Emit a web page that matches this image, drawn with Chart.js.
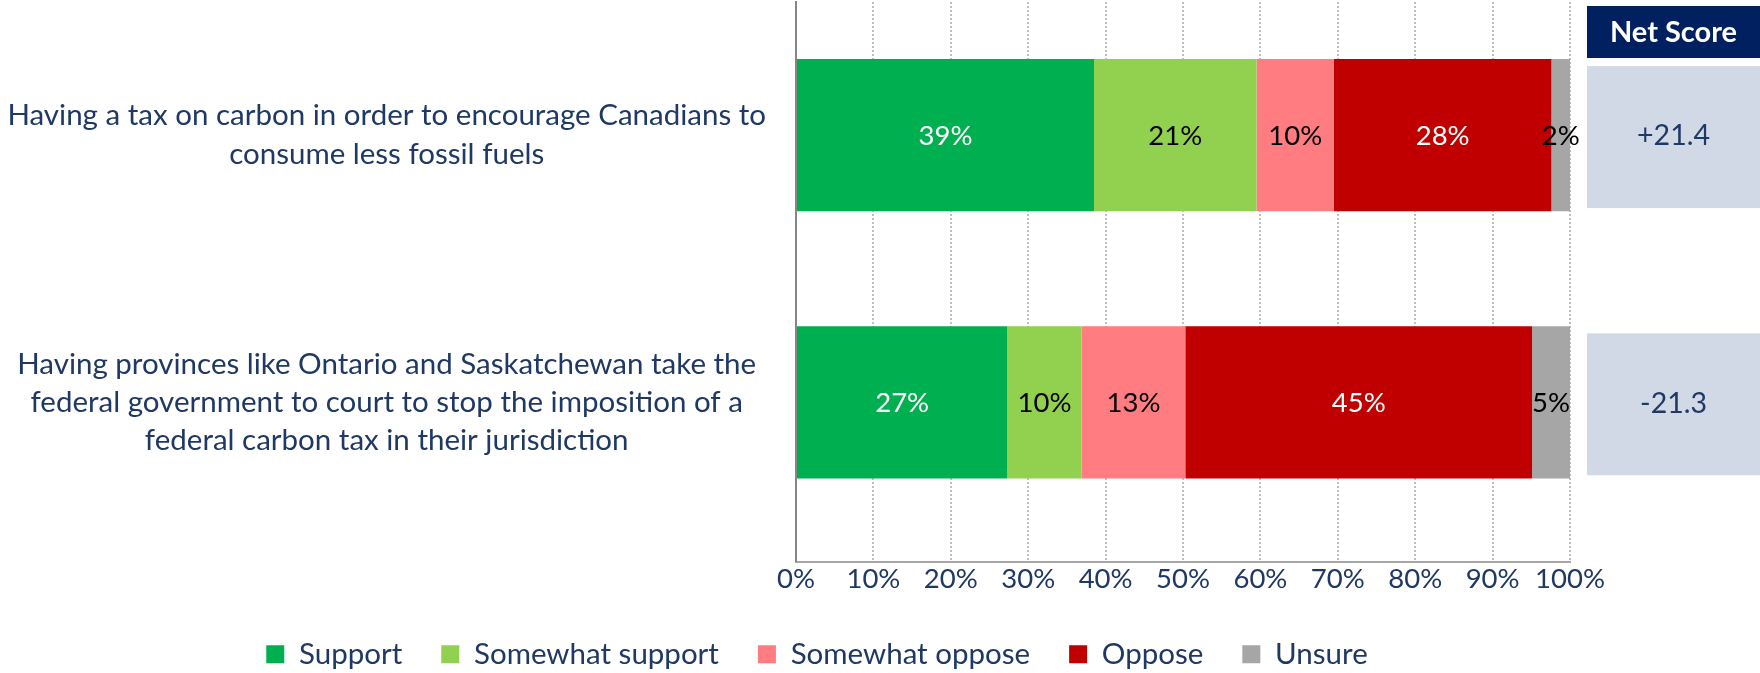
<!DOCTYPE html>
<html>
<head>
<meta charset="utf-8">
<script src="https://cdn.jsdelivr.net/npm/chart.js@4.4.1/dist/chart.umd.min.js"></script>
<style>
  html, body { margin: 0; padding: 0; background: #fff; }
  #wrap { width: 1760px; height: 673px; position: relative; }
</style>
</head>
<body>
<div id="wrap"><canvas id="myChart"></canvas></div>
<script>
// questions, pre-wrapped the way the original shows them
const questions = [
  ['Having a tax on carbon in order to encourage Canadians to', 'consume less fossil fuels'],
  ['Having provinces like Ontario and Saskatchewan take the', 'federal government to court to stop the imposition of a', 'federal carbon tax in their jurisdiction']
];
const seriesNames = ['Support', 'Somewhat support', 'Somewhat oppose', 'Oppose', 'Unsure'];
const support         = [38.5, 27.3];
const somewhatSupport = [21.0, 9.6];
const somewhatOppose  = [10.0, 13.4];
const oppose          = [28.1, 44.8];
const unsure          = [2.4, 4.9];
const netScores = ['+21.4', '-21.3'];
const xTicks = [0, 10, 20, 30, 40, 50, 60, 70, 80, 90, 100];

const colours = ['#00B050', '#92D050', '#FF7C80', '#C00000', '#A6A6A6'];
const labelColours = ['#FFFFFF', '#000000', '#000000', '#FFFFFF', '#000000'];
const navy = '#1F3864';
const FONT = 'Lato';

const series = [support, somewhatSupport, somewhatOppose, oppose, unsure];

const barLabels = {
  id: 'barLabels',
  afterDatasetsDraw(chart) {
    const ctx = chart.ctx;
    ctx.save();
    ctx.font = '27.5px ' + FONT;
    ctx.textAlign = 'center';
    ctx.textBaseline = 'middle';
    chart.data.datasets.forEach((ds, di) => {
      chart.getDatasetMeta(di).data.forEach((bar, i) => {
        ctx.fillStyle = labelColours[di];
        ctx.fillText(Math.round(series[di][i]) + '%', (bar.x + bar.base) / 2, bar.y + 1);
      });
    });
    ctx.restore();
  }
};

// the "Net Score" column to the right of the plot
const netScorePanel = {
  id: 'netScorePanel',
  afterDraw(chart) {
    const ctx = chart.ctx;
    const left = chart.chartArea.right + 17;
    const right = chart.width;
    const mid = (left + right) / 2;
    ctx.save();
    ctx.fillStyle = '#002060';
    ctx.fillRect(left, 6, right - left, 52);
    ctx.fillStyle = '#FFFFFF';
    ctx.font = 'bold 29px ' + FONT;
    ctx.textAlign = 'center';
    ctx.textBaseline = 'middle';
    ctx.fillText('Net Score', mid, 33);
    const yScale = chart.scales.y;
    netScores.forEach((s, i) => {
      const y = yScale.getPixelForValue(i);
      ctx.fillStyle = '#D1D9E7';
      ctx.fillRect(left, y - 69, right - left, 142);
      ctx.fillStyle = navy;
      ctx.font = '28.5px ' + FONT;
      ctx.fillText(s, mid, y + 1);
    });
    ctx.restore();
  }
};

// nudge the legend to where the original sits
const legendShift = {
  id: 'legendShift',
  afterLayout(chart) {
    const lg = chart.legend;
    lg.left += 32;
    lg.right += 32;
    lg.top += 6;
    lg.bottom += 6;
  }
};

new Chart(document.getElementById('myChart'), {
  type: 'bar',
  data: {
    datasets: series.map((vals, di) => ({
      label: seriesNames[di],
      data: vals.map((v, i) => ({ x: v, y: i })),
      backgroundColor: colours[di],
      borderWidth: 0,
      barPercentage: 1,
      categoryPercentage: 0.57
    }))
  },
  options: {
    indexAxis: 'y',
    responsive: true,
    maintainAspectRatio: false,
    animation: false,
    layout: { padding: { top: 2, right: 190, left: 0, bottom: 0 } },
    scales: {
      x: {
        stacked: true,
        min: 0,
        max: 100,
        afterBuildTicks: s => { s.ticks = xTicks.map(v => ({ value: v })); },
        afterFit: s => {
          s.height = 33;
          s.paddingLeft = 0;
          s.paddingRight = 0;
          s._computeLabelArea = () => undefined;
        },
        grid: { color: '#BFBFBF', lineWidth: 2, drawTicks: false },
        border: { display: true, color: '#A6A6A6', width: 2, dash: [2, 2] },
        ticks: {
          padding: 1,
          color: navy,
          font: { family: FONT, size: 27.5 },
          callback: v => v + '%'
        }
      },
      y: {
        type: 'linear',
        stacked: true,
        reverse: true,
        offset: false,
        min: -0.498,
        max: 1.5955,
        afterBuildTicks: s => { s.ticks = questions.map((q, i) => ({ value: i })); },
        afterFit: s => {
          s.width = 796;
          s.paddingTop = 0;
          s.paddingBottom = 0;
        },
        grid: { display: false, drawTicks: false },
        border: { display: true, color: '#868686', width: 2 },
        ticks: {
          crossAlign: 'center',
          padding: 30,
          color: navy,
          font: { family: FONT, size: 29.5, lineHeight: 1.3 },
          callback: v => questions[v]
        }
      }
    },
    plugins: {
      legend: {
        position: 'bottom',
        labels: {
          boxWidth: 18,
          boxHeight: 18,
          padding: 39,
          color: navy,
          font: { family: FONT, size: 29.5 }
        }
      },
      tooltip: { enabled: false }
    }
  },
  plugins: [barLabels, netScorePanel, legendShift]
});
</script>
</body>
</html>
